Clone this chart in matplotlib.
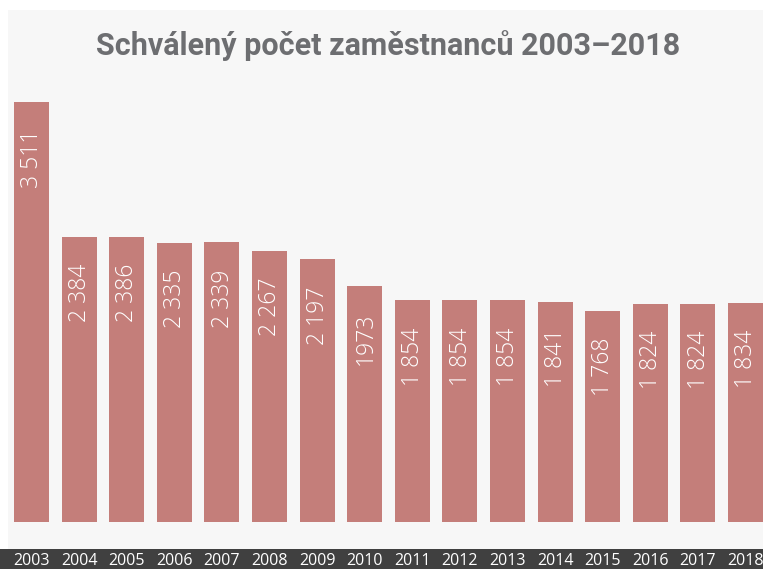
import matplotlib
matplotlib.use("Agg")
import matplotlib.pyplot as plt
from matplotlib.patches import Rectangle

years = ["2003", "2004", "2005", "2006", "2007", "2008", "2009", "2010",
         "2011", "2012", "2013", "2014", "2015", "2016", "2017", "2018"]
values = [3511, 2384, 2386, 2335, 2339, 2267, 2197, 1973,
          1854, 1854, 1854, 1841, 1768, 1824, 1824, 1834]
value_labels = ["3 511", "2 384", "2 386", "2 335", "2 339", "2 267", "2 197", "1973",
                "1 854", "1 854", "1 854", "1 841", "1 768", "1 824", "1 824", "1 834"]
title = "Schválený počet zaměstnanců 2003–2018"

W, H = 763, 569
fig = plt.figure(figsize=(W / 100, H / 100), dpi=100)
fig.patch.set_facecolor("white")

# background panel and bottom strip
fig.patches.append(Rectangle((8 / W, 0), 1, 1 - 10 / H, transform=fig.transFigure,
                             facecolor="#f7f7f7", edgecolor="none", zorder=0))
fig.patches.append(Rectangle((0, 0), 1, 20 / H, transform=fig.transFigure,
                             facecolor="#404040", edgecolor="none", zorder=1))

ax = fig.add_axes([0, 1 - 522 / H, 1, 420 / H])
ax.set_zorder(5)
ax.set_facecolor("none")
pitch = 47.6
c0 = 31.5
ax.set_xlim(-c0 / pitch, (W - c0) / pitch)
ax.set_ylim(0, max(values))
ax.axis("off")

x = list(range(len(years)))
ax.bar(x, values, width=0.735, color="#c47e7a", zorder=2)

for xi, v, lab in zip(x, values, value_labels):
    ax.annotate(lab, (xi, v), xytext=(0.5, -19.5), textcoords="offset points",
                rotation=90, ha="center", va="top", color="white",
                fontsize=16.5, family=["Open Sans", "DejaVu Sans"], fontweight="light",
                zorder=3)

# year labels in the dark strip
for xi, yr in zip(x, years):
    xp = (c0 + pitch * xi) / W
    fig.text(xp, 8 / H, yr, ha="center", va="center", color="white",
             fontsize=11.5, family=["Open Sans", "DejaVu Sans"], zorder=6)

fig.text(388 / W, 1 - 46 / H, title, ha="center", va="center", color="#6d6e71",
         fontsize=22, fontweight="bold", family=["Roboto", "DejaVu Sans"])

fig.savefig("out.png", dpi=100)
